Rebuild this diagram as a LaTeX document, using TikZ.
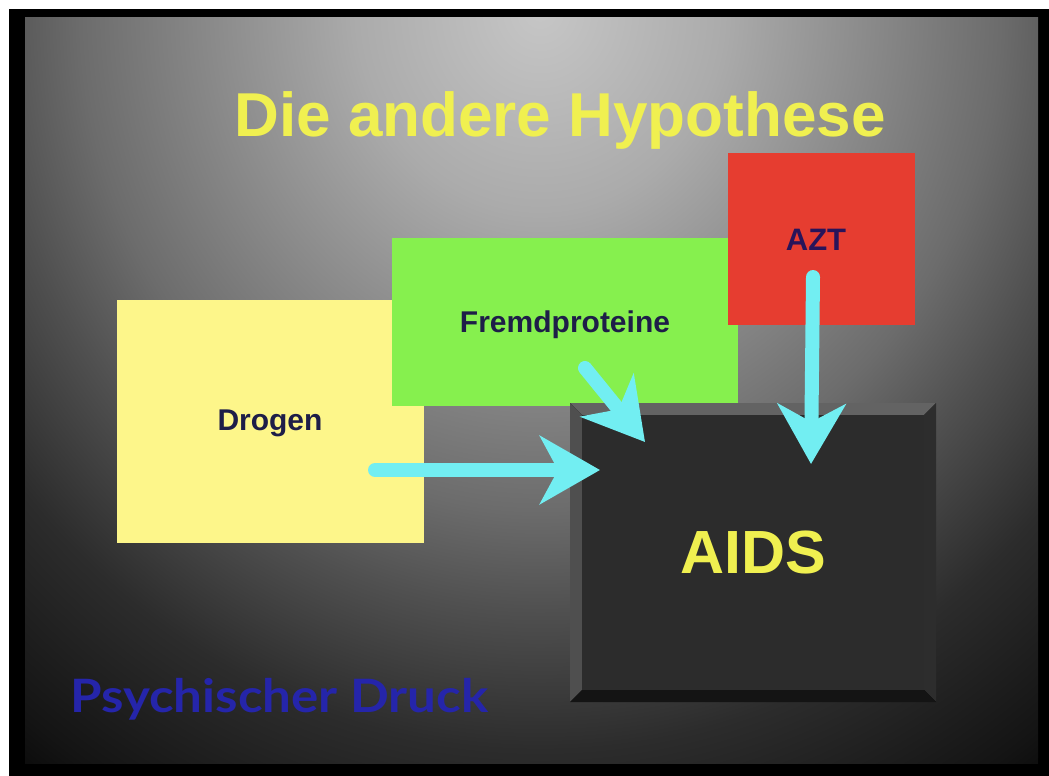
\documentclass[tikz,border=0pt]{standalone}
\usepackage{fontspec}
\setmainfont{Liberation Sans}
\newfontfamily\gillfont{Lato}
\usetikzlibrary{arrows.meta}
\definecolor{ttl}{HTML}{F0F050}
\definecolor{ybox}{HTML}{FDF68A}
\definecolor{gbox}{HTML}{86F04E}
\definecolor{rbox}{HTML}{E63D30}
\definecolor{aidsin}{HTML}{2C2C2C}
\definecolor{navy}{HTML}{1E1E48}
\definecolor{cyanarr}{HTML}{72EEF2}
\definecolor{pblue}{HTML}{2525AA}
\definecolor{bgA}{HTML}{C6C6C6}
\definecolor{bgB}{HTML}{ABABAB}
\definecolor{bgC}{HTML}{6C6C6C}
\definecolor{bgD}{HTML}{505050}
\definecolor{bgE}{HTML}{2C2C2C}
\definecolor{bgF}{HTML}{141414}
\pgfdeclareradialshading{bgshade}{\pgfpoint{0bp}{0bp}}{color(0bp)=(bgA); color(5bp)=(bgB); color(12.5bp)=(bgC); color(15bp)=(bgD); color(18.5bp)=(bgE); color(22.5bp)=(bgF); color(25bp)=(black); color(50bp)=(black)}
\tikzset{
  lbl/.style={font=\bfseries\fontsize{30}{30}\selectfont, text=navy, inner sep=0pt},
  arr/.style={draw=cyanarr, line width=14pt, line cap=round,
    -{Stealth[length=60pt, width=68pt, inset=18pt, line cap=butt]}},
}
\begin{document}
\begin{tikzpicture}[x=1pt, y=-1pt]
\useasboundingbox (0,0) rectangle (1049,776);
\fill[white] (0,0) rectangle (1049,776);
\fill[black] (9,9) rectangle (1049,776);
\begin{scope}
\clip (25,18) rectangle (1038,763);
\shade[shading=bgshade] (-380,-990) rectangle (1460,1010);
\end{scope}
% title
\node[font=\bfseries\fontsize{62}{62}\selectfont, text=ttl, inner sep=0pt] (title) at (560,120) {Die andere Hypothese};
% boxes
\fill[ybox] (117,300) rectangle (424,543);
\node[lbl] (drogen) at (270,423) {Drogen};
\fill[gbox] (392,238) rectangle (738,406);
\node[lbl] (fremd) at (565,325) {Fremdproteine};
\fill[rbox] (728,153) rectangle (915,325);
\node[lbl, font=\bfseries\fontsize{31}{31}\selectfont, text={rgb,255:red,40;green,20;blue,90}] (azt) at (816,240) {AZT};
% AIDS beveled box
\fill[black] (570,403) rectangle (936,702);
\fill[gray!78!black] (570,403) -- (936,403) -- (924,415) -- (582,415) -- cycle;
\fill[gray!62!black] (570,403) -- (582,415) -- (582,690) -- (570,702) -- cycle;
\fill[gray!35!black] (936,403) -- (936,702) -- (924,690) -- (924,415) -- cycle;
\fill[black!92] (570,702) -- (936,702) -- (924,690) -- (582,690) -- cycle;
\fill[aidsin] (582,415) rectangle (924,690);
\node[font=\bfseries\fontsize{61}{61}\selectfont, text=ttl, inner sep=0pt] (aids) at (753,552) {AIDS};
% arrows
\coordinate (d0) at (375,470);
\coordinate (d1) at (600,470);
\coordinate (f0) at (585,368);
\coordinate (f1) at (645,442);
\coordinate (a0) at (813,277);
\coordinate (a1) at (811,464);
\draw[arr] (d0) -- (d1);
\draw[arr] (f0) -- (f1);
\draw[arr] (a0) -- (a1);
% Psychischer Druck
\node[font=\gillfont\bfseries\fontsize{46}{46}\selectfont, text=pblue, inner sep=0pt, anchor=base west, xscale=1.11] (psych) at (70,712) {Psychischer Druck};
\end{tikzpicture}
\end{document}
